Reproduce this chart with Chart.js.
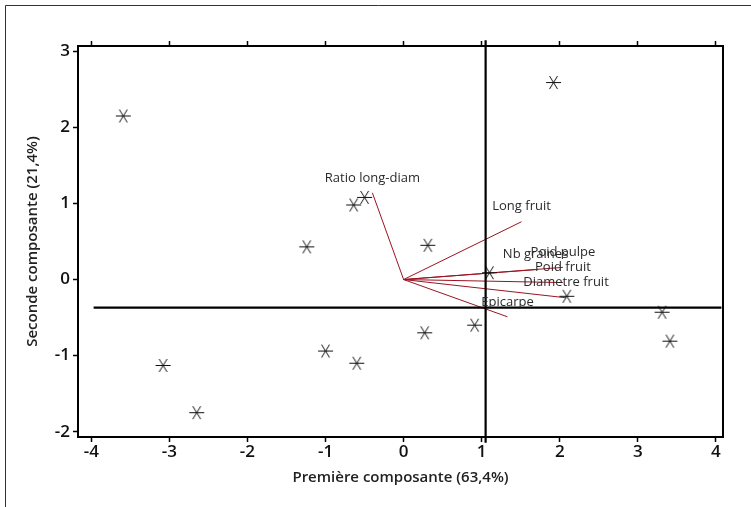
<!DOCTYPE html>
<html>
<head>
<meta charset="utf-8">
<script src="https://cdn.jsdelivr.net/npm/chart.js@4/dist/chart.umd.min.js"></script>
<style>
html,body{margin:0;padding:0;background:#fff;}
#wrap{width:751px;height:507px;position:relative;}
</style>
</head>
<body>
<div id="wrap"><canvas id="c" width="751" height="507"></canvas></div>
<script>
// Individual scores (first and second component)
const scoreX = [-3.59, 1.92, -3.08, -2.65, -1.24, -1.00, -0.60, -0.64, -0.50, 0.31, 0.27, 0.91, 1.10, 2.09, 3.31, 3.41];
const scoreY = [2.15, 2.59, -1.13, -1.75, 0.43, -0.94, -1.10, 0.98, 1.08, 0.45, -0.70, -0.60, 0.09, -0.22, -0.43, -0.81];

// Variable loadings (vectors)
const vecLabels = ["Ratio long-diam", "Long fruit", "Nb graines", "Poid pulpe", "Poid fruit", "Diametre fruit", "Epicarpe"];
const vecX = [-0.40, 1.51, 1.69, 2.04, 2.04, 2.08, 1.33];
const vecY = [1.14, 0.76, 0.13, 0.16, -0.04, -0.24, -0.49];

// Reference lines
const refX = 1.05;
const refY = -0.37;

// Tick labels
const xTicks = [-4, -3, -2, -1, 0, 1, 2, 3, 4];
const yTicks = [-2, -1, 0, 1, 2, 3];

const xTitle = "Première composante (63,4%)";
const yTitle = "Seconde composante (21,4%)";

// marker: asterisk with horizontal bar and two diagonals
function makeMarker() {
  const c = document.createElement('canvas');
  c.width = 17; c.height = 15;
  const g = c.getContext('2d');
  g.strokeStyle = '#111';
  g.lineWidth = 1;
  g.beginPath();
  g.moveTo(1, 7.5); g.lineTo(16, 7.5);
  g.moveTo(4.5, 1); g.lineTo(12.5, 14);
  g.moveTo(12.5, 1); g.lineTo(4.5, 14);
  g.stroke();
  return c;
}
const marker = makeMarker();

const XMIN = -4.17, XMAX = 4.09, YMIN = -2.07, YMAX = 3.07;

const datasets = [];
datasets.push({
  label: 'scores',
  data: scoreX.map((x, i) => ({x: x, y: scoreY[i]})),
  pointStyle: marker,
  pointRadius: 8,
  showLine: false,
  order: 1
});
vecLabels.forEach((lab, i) => {
  datasets.push({
    label: lab,
    data: [{x: 0, y: 0}, {x: vecX[i], y: vecY[i]}],
    showLine: true,
    borderColor: '#9b1422',
    borderWidth: 1,
    pointRadius: 0,
    order: 2
  });
});
datasets.push({
  label: 'refV',
  data: [{x: refX, y: YMAX + 0.075}, {x: refX, y: YMIN - 0.075}],
  showLine: true, borderColor: '#000', borderWidth: 2.2, pointRadius: 0, clip: false, order: 0
});
datasets.push({
  label: 'refH',
  data: [{x: -3.97, y: refY}, {x: 4.07, y: refY}],
  showLine: true, borderColor: '#000', borderWidth: 2.2, pointRadius: 0, clip: false, order: 0
});

const frame = {
  id: 'frame',
  beforeDraw(chart) {
    const ctx = chart.ctx;
    ctx.save();
    ctx.fillStyle = '#fff';
    ctx.fillRect(0, 0, chart.width, chart.height);
    ctx.strokeStyle = '#333';
    ctx.lineWidth = 1;
    ctx.beginPath();
    ctx.moveTo(5.5, chart.height);
    ctx.lineTo(5.5, 5.5);
    ctx.lineTo(chart.width, 5.5);
    ctx.stroke();
    ctx.restore();
  },
  afterDatasetsDraw(chart) {
    const ctx = chart.ctx;
    const a = chart.chartArea;
    ctx.save();
    ctx.strokeStyle = '#000';
    ctx.lineWidth = 2;
    ctx.strokeRect(a.left, a.top, a.right - a.left, a.bottom - a.top);
    // vector labels
    const xs = chart.scales.x, ys = chart.scales.y;
    ctx.font = '13px "Open Sans"';
    ctx.fillStyle = '#2a2a2a';
    ctx.textAlign = 'center';
    ctx.textBaseline = 'middle';
    vecLabels.forEach((lab, i) => {
      const px = xs.getPixelForValue(vecX[i]);
      const py = ys.getPixelForValue(vecY[i]);
      ctx.fillText(lab, px, py - 15);
    });
    ctx.restore();
  }
};

const tickFont = {family: '"Open Sans"', size: 17, weight: '600'};
const gridCfg = {display: true, drawOnChartArea: false, drawTicks: true, tickLength: 5, color: '#000', tickColor: '#000', tickWidth: 1.5};

new Chart(document.getElementById('c'), {
  type: 'scatter',
  data: {datasets: datasets},
  plugins: [frame],
  options: {
    responsive: false,
    animation: false,
    events: [],
    layout: {padding: {right: 28, left: 0, top: 0, bottom: 0}},
    plugins: {legend: {display: false}, tooltip: {enabled: false}},
    scales: {
      x: {
        type: 'linear', position: 'bottom', min: XMIN, max: XMAX,
        afterBuildTicks: s => { s.ticks = xTicks.map(v => ({value: v})); },
        afterFit: s => { s.height = 70; },
        grid: gridCfg,
        border: {display: false},
        ticks: {font: tickFont, color: '#111', padding: 0, autoSkip: false, maxRotation: 0, callback: v => String(v)},
        title: {display: true, text: xTitle, color: '#222', font: {family: '"Open Sans"', size: 15, weight: '600'}, padding: {top: 0, bottom: 20}}
      },
      x2: {
        type: 'linear', position: 'top', min: XMIN, max: XMAX,
        afterBuildTicks: s => { s.ticks = xTicks.map(v => ({value: v})); },
        afterFit: s => { s.height = 46; },
        grid: gridCfg,
        border: {display: false},
        ticks: {display: true, callback: () => '', font: tickFont}
      },
      y: {
        type: 'linear', position: 'left', min: YMIN, max: YMAX,
        afterBuildTicks: s => { s.ticks = yTicks.map(v => ({value: v})); },
        afterFit: s => { s.width = 78; },
        grid: gridCfg,
        border: {display: false},
        ticks: {font: tickFont, color: '#111', padding: 3, autoSkip: false, callback: v => String(v)},
        title: {display: true, text: yTitle, color: '#222', font: {family: '"Open Sans"', size: 15, weight: '600'}, padding: {top: 24, bottom: 0}}
      }
    }
  }
});
</script>
</body>
</html>
